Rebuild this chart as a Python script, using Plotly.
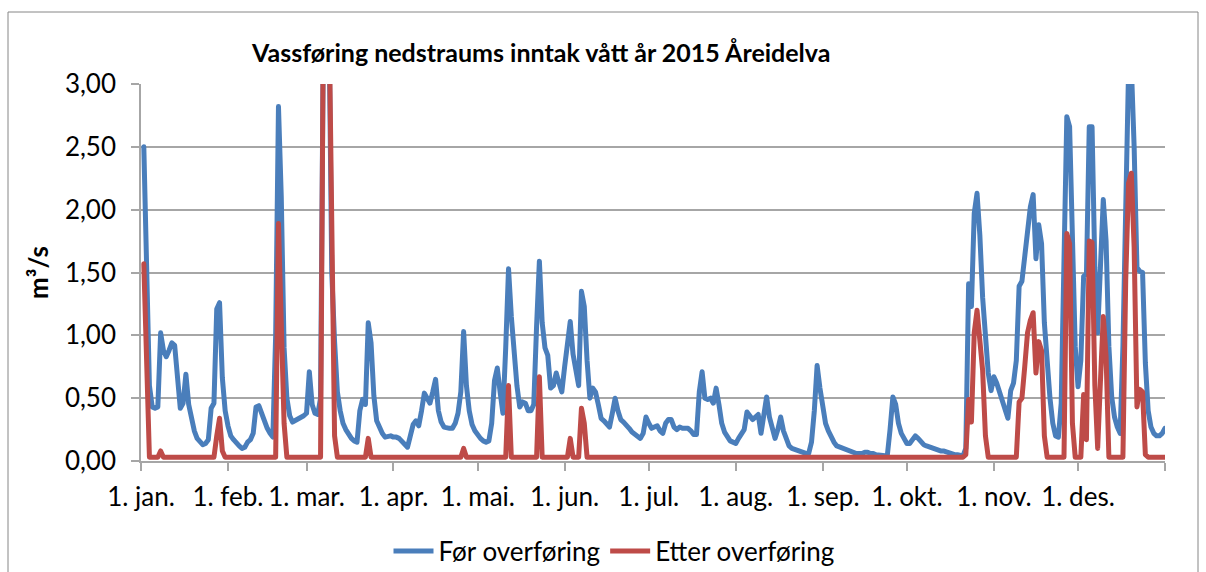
import plotly.graph_objects as go

title_text = "Vassføring nedstraums inntak vått år 2015 Åreidelva"
y_title = "m³/s"
series_names = ["Før overføring", "Etter overføring"]
tick_labels = ["1. jan.", "1. feb.", "1. mar.", "1. apr.", "1. mai.", "1. jun.",
               "1. jul.", "1. aug.", "1. sep.", "1. okt.", "1. nov.", "1. des.", ""]
tick_days = [0, 31, 59, 90, 120, 151, 181, 212, 243, 273, 304, 334, 365]

# Før overføring (m3/s), daily values per month
before_jan = [2.50, 1.50, 0.60, 0.43, 0.42, 0.43, 1.02, 0.88, 0.83, 0.88, 0.94, 0.92, 0.70, 0.42, 0.46, 0.69,
              0.45, 0.33, 0.24, 0.18, 0.15, 0.13, 0.14, 0.17, 0.42, 0.46, 1.21, 1.26, 0.66, 0.40, 0.28]
before_feb = [0.20, 0.17, 0.14, 0.12, 0.10, 0.11, 0.15, 0.17, 0.22, 0.43, 0.44, 0.38, 0.31, 0.26, 0.22, 0.19,
              1.00, 2.82, 2.10, 0.90, 0.50, 0.36, 0.31, 0.32, 0.33, 0.35, 0.36, 0.38]
before_mar = [0.71, 0.45, 0.38, 0.37, 0.50, 3.40, 3.80, 3.50, 1.50, 0.95, 0.55, 0.40, 0.30, 0.25, 0.21, 0.18,
              0.16, 0.15, 0.40, 0.49, 0.45, 1.10, 0.94, 0.52, 0.32, 0.26, 0.22, 0.19, 0.20, 0.20, 0.19]
before_apr = [0.19, 0.18, 0.16, 0.13, 0.11, 0.20, 0.29, 0.32, 0.28, 0.40, 0.54, 0.50, 0.46, 0.55, 0.65, 0.40,
              0.31, 0.27, 0.26, 0.26, 0.26, 0.30, 0.38, 0.55, 1.03, 0.60, 0.40, 0.29, 0.24, 0.20]
before_may = [0.18, 0.16, 0.15, 0.16, 0.30, 0.64, 0.74, 0.55, 0.38, 0.90, 1.53, 1.15, 0.86, 0.60, 0.43, 0.47,
              0.46, 0.40, 0.40, 0.45, 1.07, 1.59, 1.10, 0.90, 0.84, 0.58, 0.60, 0.70, 0.62, 0.55, 0.75]
before_jun = [0.90, 1.11, 0.85, 0.69, 0.60, 1.35, 1.23, 0.80, 0.50, 0.58, 0.55, 0.45, 0.34, 0.32, 0.30, 0.27,
              0.38, 0.50, 0.40, 0.33, 0.31, 0.29, 0.26, 0.23, 0.21, 0.19, 0.18, 0.22, 0.35, 0.30]
before_jul = [0.26, 0.27, 0.28, 0.24, 0.22, 0.30, 0.33, 0.33, 0.27, 0.25, 0.27, 0.26, 0.26, 0.26, 0.24, 0.21,
              0.21, 0.55, 0.71, 0.50, 0.49, 0.50, 0.46, 0.58, 0.45, 0.30, 0.23, 0.19, 0.16, 0.15, 0.14]
before_aug = [0.18, 0.22, 0.25, 0.39, 0.35, 0.33, 0.35, 0.37, 0.22, 0.35, 0.51, 0.35, 0.25, 0.18, 0.25, 0.35,
              0.24, 0.17, 0.12, 0.10, 0.09, 0.08, 0.08, 0.07, 0.06, 0.06, 0.15, 0.40, 0.76, 0.58, 0.41]
before_sep = [0.30, 0.24, 0.19, 0.15, 0.12, 0.11, 0.10, 0.09, 0.08, 0.07, 0.06, 0.06, 0.06, 0.06, 0.07, 0.07,
              0.06, 0.06, 0.05, 0.05, 0.05, 0.04, 0.04, 0.25, 0.51, 0.45, 0.30, 0.22, 0.17, 0.14]
before_oct = [0.14, 0.17, 0.20, 0.18, 0.15, 0.13, 0.12, 0.11, 0.10, 0.10, 0.09, 0.08, 0.08, 0.07, 0.06, 0.06,
              0.05, 0.05, 0.04, 0.04, 0.10, 1.41, 1.23, 1.97, 2.13, 1.80, 1.30, 0.95, 0.70, 0.56, 0.67]
before_nov = [0.62, 0.55, 0.45, 0.38, 0.34, 0.56, 0.62, 0.80, 1.39, 1.43, 1.65, 1.85, 2.02, 2.12, 1.61, 1.88,
              1.73, 1.10, 0.75, 0.50, 0.30, 0.20, 0.19, 0.46, 1.60, 2.74, 2.66, 1.60, 0.91, 0.59]
before_dec = [0.80, 1.47, 1.49, 2.66, 2.66, 1.54, 1.02, 1.55, 2.08, 1.75, 0.91, 0.51, 0.35, 0.27, 0.22, 0.91,
              2.02, 3.10, 3.15, 2.50, 1.54, 1.51, 1.50, 0.78, 0.40, 0.27, 0.22, 0.20, 0.20, 0.22, 0.26]

# Etter overføring (m3/s), daily values per month
after_jan = [1.57, 0.75, 0.03, 0.03, 0.03, 0.03, 0.08, 0.03, 0.03, 0.03, 0.03, 0.03, 0.03, 0.03, 0.03, 0.03,
             0.03, 0.03, 0.03, 0.03, 0.03, 0.03, 0.03, 0.03, 0.03, 0.03, 0.20, 0.34, 0.08, 0.03, 0.03]
after_feb = [0.03, 0.03, 0.03, 0.03, 0.03, 0.03, 0.03, 0.03, 0.03, 0.03, 0.03, 0.03, 0.03, 0.03, 0.03, 0.03,
             0.03, 1.89, 1.10, 0.30, 0.03, 0.03, 0.03, 0.03, 0.03, 0.03, 0.03, 0.03]
after_mar = [0.03, 0.03, 0.03, 0.03, 0.03, 3.50, 4.00, 3.60, 1.60, 0.20, 0.03, 0.03, 0.03, 0.03, 0.03, 0.03,
             0.03, 0.03, 0.03, 0.03, 0.03, 0.18, 0.03, 0.03, 0.03, 0.03, 0.03, 0.03, 0.03, 0.03, 0.03]
after_apr = [0.03, 0.03, 0.03, 0.03, 0.03, 0.03, 0.03, 0.03, 0.03, 0.03, 0.03, 0.03, 0.03, 0.03, 0.03, 0.03,
             0.03, 0.03, 0.03, 0.03, 0.03, 0.03, 0.03, 0.03, 0.10, 0.03, 0.03, 0.03, 0.03, 0.03]
after_may = [0.03, 0.03, 0.03, 0.03, 0.03, 0.03, 0.03, 0.03, 0.03, 0.03, 0.60, 0.03, 0.03, 0.03, 0.03, 0.03,
             0.03, 0.03, 0.03, 0.03, 0.03, 0.67, 0.03, 0.03, 0.03, 0.03, 0.03, 0.03, 0.03, 0.03, 0.03]
after_jun = [0.03, 0.18, 0.03, 0.03, 0.03, 0.42, 0.30, 0.03, 0.03, 0.03, 0.03, 0.03, 0.03, 0.03, 0.03, 0.03,
             0.03, 0.03, 0.03, 0.03, 0.03, 0.03, 0.03, 0.03, 0.03, 0.03, 0.03, 0.03, 0.03, 0.03]
after_jul = [0.03, 0.03, 0.03, 0.03, 0.03, 0.03, 0.03, 0.03, 0.03, 0.03, 0.03, 0.03, 0.03, 0.03, 0.03, 0.03,
             0.03, 0.03, 0.03, 0.03, 0.03, 0.03, 0.03, 0.03, 0.03, 0.03, 0.03, 0.03, 0.03, 0.03, 0.03]
after_aug = [0.03, 0.03, 0.03, 0.03, 0.03, 0.03, 0.03, 0.03, 0.03, 0.03, 0.03, 0.03, 0.03, 0.03, 0.03, 0.03,
             0.03, 0.03, 0.03, 0.03, 0.03, 0.03, 0.03, 0.03, 0.03, 0.03, 0.03, 0.03, 0.03, 0.03, 0.03]
after_sep = [0.03, 0.03, 0.03, 0.03, 0.03, 0.03, 0.03, 0.03, 0.03, 0.03, 0.03, 0.03, 0.03, 0.03, 0.03, 0.03,
             0.03, 0.03, 0.03, 0.03, 0.03, 0.03, 0.03, 0.03, 0.03, 0.03, 0.03, 0.03, 0.03, 0.03]
after_oct = [0.03, 0.03, 0.03, 0.03, 0.03, 0.03, 0.03, 0.03, 0.03, 0.03, 0.03, 0.03, 0.03, 0.03, 0.03, 0.03,
             0.03, 0.03, 0.03, 0.03, 0.05, 0.49, 0.31, 1.02, 1.20, 1.00, 0.72, 0.20, 0.03, 0.03, 0.03]
after_nov = [0.03, 0.03, 0.03, 0.03, 0.03, 0.03, 0.03, 0.03, 0.47, 0.50, 0.75, 1.02, 1.12, 1.18, 0.70, 0.95,
             0.88, 0.20, 0.03, 0.03, 0.03, 0.03, 0.03, 0.03, 0.03, 1.81, 1.73, 0.30, 0.03, 0.03]
after_dec = [0.03, 0.53, 0.17, 1.75, 1.74, 0.60, 0.10, 0.64, 1.15, 0.83, 0.03, 0.03, 0.03, 0.03, 0.03, 0.03,
             1.44, 2.21, 2.29, 1.70, 0.43, 0.57, 0.55, 0.05, 0.03, 0.03, 0.03, 0.03, 0.03, 0.03, 0.03]

before = (before_jan + before_feb + before_mar + before_apr + before_may + before_jun +
          before_jul + before_aug + before_sep + before_oct + before_nov + before_dec)
after = (after_jan + after_feb + after_mar + after_apr + after_may + after_jun +
         after_jul + after_aug + after_sep + after_oct + after_nov + after_dec)
days = list(range(1, len(before) + 1))

BLUE = "#4A7EBB"
RED = "#BE4B48"
GRID = "#A6A6A6"
FONT = "Lato"

fig = go.Figure()
fig.add_trace(go.Scatter(x=days, y=before, mode="lines", name=series_names[0],
                         line=dict(color=BLUE, width=5)))
fig.add_trace(go.Scatter(x=days, y=after, mode="lines", name=series_names[1],
                         line=dict(color=RED, width=5)))

W, H = 1206, 572
L, R, T, B = 141, 1165, 84, 461
pw, ph = R - L, B - T


def px(x):
    return (x - L) / pw


def py(y):
    return (B - y) / ph


fig.update_layout(
    width=W, height=H,
    margin=dict(l=L, r=W - R, t=T, b=H - B, pad=0, autoexpand=False),
    paper_bgcolor="white", plot_bgcolor="white",
    separators=", ",
    font=dict(family=FONT, size=26, color="black"),
    showlegend=True,
    legend=dict(orientation="h", x=px(614), y=py(551), xanchor="center", yanchor="middle",
                font=dict(family=FONT, size=26, color="black"), bgcolor="rgba(0,0,0,0)",
                itemwidth=40, tracegroupgap=0),
    xaxis=dict(range=[0, 365], tickmode="array", tickvals=tick_days, ticktext=tick_labels,
               showgrid=False, zeroline=False, showline=True, linecolor=GRID, linewidth=1.5,
               ticks="outside", ticklen=8, tickwidth=1.5, tickcolor=GRID,
               ticklabelstandoff=4, tickfont=dict(family=FONT, size=26, color="black")),
    yaxis=dict(range=[0, 3], tickmode="array", tickvals=[0, 0.5, 1, 1.5, 2, 2.5, 3], tickformat=".2f",
               showgrid=True, gridcolor=GRID, gridwidth=1.5, zeroline=False,
               showline=True, linecolor=GRID, linewidth=1.5,
               ticks="outside", ticklen=8, tickwidth=1.5, tickcolor=GRID,
               ticklabelstandoff=10, tickfont=dict(family=FONT, size=26, color="black")),
    annotations=[
        dict(text="<b>" + title_text + "</b>", xref="paper", yref="paper", x=px(540), y=py(52),
             xanchor="center", yanchor="middle", showarrow=False,
             font=dict(family=FONT, size=25, color="black")),
        dict(text="<b>" + y_title + "</b>", xref="paper", yref="paper", x=px(38), y=py(273),
             xanchor="center", yanchor="middle", textangle=-90, showarrow=False,
             font=dict(family=FONT, size=26, color="black")),
    ],
    shapes=[
        dict(type="rect", xref="paper", yref="paper", x0=px(8), x1=px(1198), y0=py(12), y1=py(600),
             line=dict(color="#868686", width=1), fillcolor="rgba(0,0,0,0)", layer="below"),
    ],
)

post = """
var s = document.createElement('style');
s.innerHTML = 'html,body{margin:0 !important;padding:0 !important;} .scatterlayer .js-line{stroke-linejoin:round !important;stroke-linecap:round !important;}';
document.head.appendChild(s);
"""
fig.write_html("out.html", post_script=post, config={"displayModeBar": False})
